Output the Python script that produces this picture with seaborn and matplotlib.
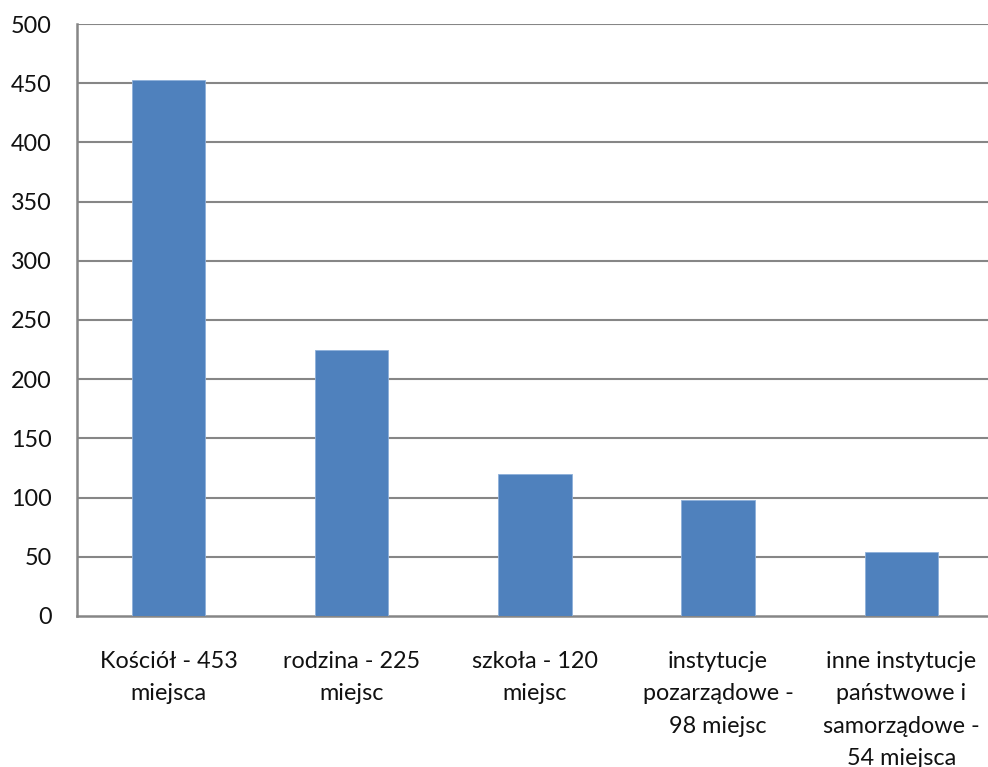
import matplotlib
matplotlib.use("Agg")
import matplotlib.pyplot as plt
import seaborn as sns
import pandas as pd


# =========================================
# DATA
# =========================================

categories = [
    "Kościół - 453\nmiejsca",
    "rodzina - 225\nmiejsc",
    "szkoła - 120\nmiejsc",
    "instytucje\npozarządowe -\n98 miejsc",
    "inne instytucje\npaństwowe i\nsamorządowe -\n54 miejsca",
]

values = [453, 225, 120, 98, 54]

y_ticks = [0, 50, 100, 150, 200, 250, 300, 350, 400, 450, 500]

df = pd.DataFrame({"kategoria": categories, "liczba": values})


# =========================================
# STYLE
# =========================================

sns.set_theme(style="white")

plt.rcParams["font.family"] = ["Lato", "DejaVu Sans"]

grid_color = "#868686"


# =========================================
# PLOT
# =========================================

fig = plt.figure(figsize=(9.88, 7.67), dpi=100)

ax = fig.add_axes([0.0779, 0.1969, 0.927, 0.7718])

sns.barplot(
    data=df,
    x="kategoria",
    y="liczba",
    color="#4F81BD",
    saturation=1,
    width=0.4,
    edgecolor="#8EB0DA",
    linewidth=0.6,
    ax=ax,
    zorder=3
)

ax.set_ylim(0, 500)
ax.set_xlim(-0.5, 4.5)
ax.set_yticks(y_ticks)

for t in y_ticks[1:]:
    ax.axhline(t, color=grid_color, linewidth=1.5, zorder=1)

ax.set_xlabel("")
ax.set_ylabel("")

for side in ["top", "right"]:
    ax.spines[side].set_visible(False)

for side in ["left", "bottom"]:
    ax.spines[side].set_color(grid_color)
    ax.spines[side].set_linewidth(1.8)

ax.tick_params(axis="y", length=0, pad=18, labelsize=16.8, labelcolor="#111111")
ax.tick_params(axis="x", length=0, pad=25, labelsize=16.8, labelcolor="#111111")

for label in ax.get_xticklabels():
    label.set_linespacing(1.68)

fig.savefig("out.png", dpi=100)
